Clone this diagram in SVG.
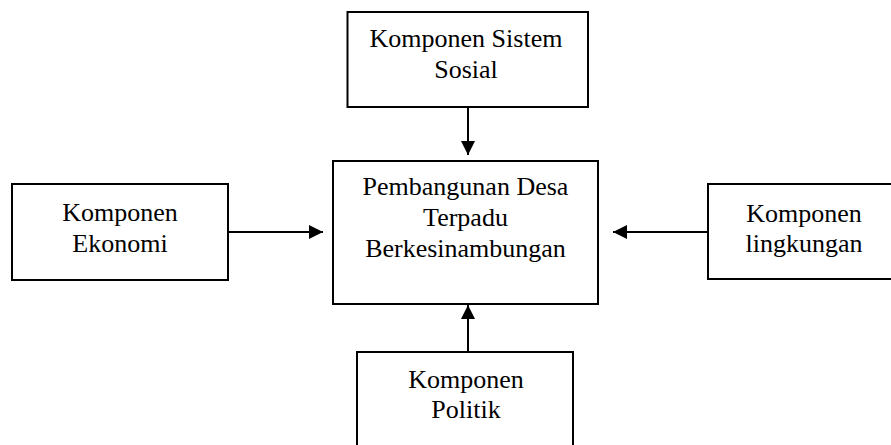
<svg xmlns="http://www.w3.org/2000/svg" width="891" height="445" viewBox="0 0 891 445">
<defs>
<style>
.box{fill:#fff;stroke:#000;stroke-width:2}
.lbl{font-family:'Liberation Serif','Times New Roman',serif;font-size:26px;fill:#000;text-anchor:middle}
.conn{stroke:#000;stroke-width:2;fill:none}
</style>
<marker id="arr" viewBox="0 0 10 10" refX="10" refY="5" markerWidth="7.5" markerHeight="7" markerUnits="strokeWidth" orient="auto">
<path d="M0,0 L10,5 L0,10 z" fill="#000"/>
</marker>
</defs>
<rect width="891" height="445" fill="#fff"/>
<g id="sosial">
<rect class="box" x="347.5" y="12" width="240.5" height="95"/>
<text class="lbl" x="466" y="47">Komponen Sistem</text>
<text class="lbl" x="466" y="78">Sosial</text>
</g>
<g id="pembangunan">
<rect class="box" x="333" y="161" width="265" height="143"/>
<text class="lbl" x="465.5" y="195">Pembangunan Desa</text>
<text class="lbl" x="465.5" y="226">Terpadu</text>
<text class="lbl" x="465.5" y="257">Berkesinambungan</text>
</g>
<g id="ekonomi">
<rect class="box" x="12" y="184" width="216" height="96"/>
<text class="lbl" x="120" y="221">Komponen</text>
<text class="lbl" x="120" y="252">Ekonomi</text>
</g>
<g id="lingkungan">
<rect class="box" x="708" y="184" width="190" height="95"/>
<text class="lbl" x="804" y="222">Komponen</text>
<text class="lbl" x="804" y="252">lingkungan</text>
</g>
<g id="politik">
<rect class="box" x="357" y="352" width="216" height="100"/>
<text class="lbl" x="466" y="388">Komponen</text>
<text class="lbl" x="466" y="418">Politik</text>
</g>
<g id="connectors">
<line class="conn" x1="468" y1="107" x2="468" y2="155" marker-end="url(#arr)"/>
<line class="conn" x1="228" y1="232" x2="323" y2="232" marker-end="url(#arr)"/>
<line class="conn" x1="708" y1="232" x2="613" y2="232" marker-end="url(#arr)"/>
<line class="conn" x1="468" y1="352" x2="468" y2="305" marker-end="url(#arr)"/>
</g>
</svg>
